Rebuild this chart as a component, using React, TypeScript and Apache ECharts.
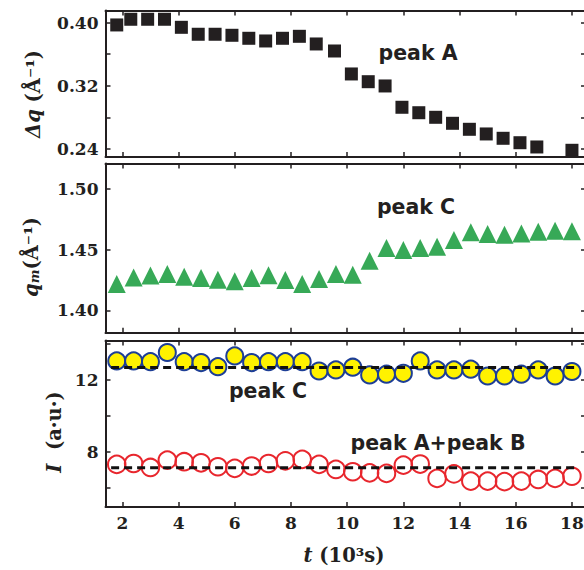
import React, { useEffect, useRef } from 'react';
import * as echarts from 'echarts';

// peak A width (top panel)
const tA = [1.8, 2.3, 2.9, 3.5, 4.1, 4.7, 5.3, 5.9, 6.5, 7.1, 7.7, 8.3, 8.9, 9.55, 10.15, 10.75, 11.35, 11.95, 12.55, 13.15, 13.75, 14.35, 14.95, 15.55, 16.15, 16.75, 18.0];
const dqA = [0.397, 0.4042, 0.4042, 0.4042, 0.394, 0.3852, 0.3852, 0.3839, 0.3801, 0.3767, 0.3801, 0.3826, 0.3729, 0.364, 0.3349, 0.3251, 0.3197, 0.2927, 0.2858, 0.28, 0.2724, 0.2648, 0.2589, 0.2534, 0.2478, 0.2424, 0.2382];

// peak C position (middle) and intensities (bottom)
const tC = [1.8, 2.4, 3.0, 3.6, 4.2, 4.8, 5.4, 6.0, 6.6, 7.2, 7.8, 8.4, 9.0, 9.6, 10.2, 10.8, 11.4, 12.0, 12.6, 13.2, 13.8, 14.4, 15.0, 15.6, 16.2, 16.8, 17.4, 18.0];
const qmC = [1.4217, 1.4271, 1.4286, 1.4299, 1.4277, 1.4267, 1.4252, 1.4239, 1.4267, 1.4288, 1.425, 1.4217, 1.4258, 1.4299, 1.4293, 1.4408, 1.4512, 1.4495, 1.4512, 1.4523, 1.4578, 1.4641, 1.4627, 1.4621, 1.4632, 1.4646, 1.4654, 1.4649];
const intensityC = [13.06, 13.06, 13.02, 13.53, 13.02, 12.97, 12.74, 13.34, 12.97, 13.02, 13.02, 13.02, 12.50, 12.56, 12.71, 12.28, 12.32, 12.37, 13.06, 12.56, 12.56, 12.60, 12.22, 12.22, 12.32, 12.56, 12.22, 12.47];
const intensityAB = [7.29, 7.34, 7.12, 7.53, 7.44, 7.38, 7.16, 7.07, 7.20, 7.34, 7.49, 7.57, 7.29, 7.01, 6.88, 6.82, 6.79, 7.25, 7.31, 6.51, 6.76, 6.36, 6.36, 6.33, 6.36, 6.45, 6.51, 6.63];

// dashed reference levels
const fitT = [1.6, 18.2];
const fitC = 12.7;
const fitAB = 7.1;

// ticks
const xTicks = [2, 4, 6, 8, 10, 12, 14, 16, 18];
const dqTicks = [0.24, 0.28, 0.32, 0.36, 0.40];
const dqLabels = [0.24, 0.32, 0.40];
const qmTicks = [1.40, 1.45, 1.50];
const iTicks = [6, 8, 10, 12, 14];
const iLabels = [8, 12];

const INK = '#231f20';
const SERIF = '"DejaVu Serif"';
const SANS = '"DejaVu Sans"';

export default function App() {
  const ref = useRef<HTMLDivElement>(null);
  useEffect(() => {
    if (!ref.current) return;
    const chart = echarts.init(ref.current, null, { renderer: 'svg' });

    const grids = [
      { top: 10.5, height: 146.5 },
      { top: 163.5, height: 169.2 },
      { top: 340.5, height: 166.5 },
    ].map((g) => ({ left: 105.5, right: 14, top: g.top, height: g.height, containLabel: false, outerBoundsMode: 'none' }));

    const axisLine = { show: true, onZero: false, lineStyle: { color: INK, width: 2 } };
    const tickStyle = { show: true, inside: true, length: 5, lineStyle: { color: INK, width: 1.5 } };
    const labelFont = { fontFamily: SERIF, fontWeight: 'bold', fontSize: 17, color: INK };

    const xAxes: any[] = [];
    const yAxes: any[] = [];
    const yDefs = [
      { min: 0.2297, max: 0.4153, ticks: dqTicks, labels: dqLabels, fmt: (v: number) => v.toFixed(2) },
      { min: 1.3818, max: 1.5205, ticks: qmTicks, labels: qmTicks, fmt: (v: number) => v.toFixed(2) },
      { min: 4.915, max: 14.2, ticks: iTicks, labels: iLabels, fmt: (v: number) => String(Math.round(v)) },
    ];
    for (let g = 0; g < 3; g++) {
      for (const pos of ['bottom', 'top']) {
        xAxes.push({
          type: 'value', gridIndex: g, position: pos, min: 1.4, max: 18.5,
          axisLine, splitLine: { show: false },
          axisTick: { ...tickStyle, customValues: xTicks },
          axisLabel: g === 2 && pos === 'bottom'
            ? { show: true, customValues: xTicks, margin: 7, ...labelFont }
            : { show: false },
        });
      }
      const d = yDefs[g];
      for (const pos of ['left', 'right']) {
        yAxes.push({
          type: 'value', gridIndex: g, position: pos, min: d.min, max: d.max,
          axisLine, splitLine: { show: false },
          axisTick: { ...tickStyle, customValues: d.ticks },
          axisLabel: pos === 'left'
            ? { show: true, customValues: d.labels, margin: 7, formatter: d.fmt, ...labelFont }
            : { show: false },
        });
      }
    }

    const pair = (xs: number[], ys: number[]) => xs.map((x, i) => [x, ys[i]]);

    const titleRich = {
      b: { fontFamily: SERIF, fontWeight: 'bold', fontSize: 19.5, fill: INK },
      i: { fontFamily: SERIF, fontWeight: 'bold', fontStyle: 'italic', fontSize: 19.5, fill: INK },
      sub: { fontFamily: SERIF, fontWeight: 'bold', fontStyle: 'italic', fontSize: 13, fill: INK, verticalAlign: 'bottom' },
    };
    const peakFont = `bold 20.5px ${SANS}`;
    const peakText = (text: string, x: number, y: number) => ({
      type: 'text', x, y, z: 100,
      style: { text, font: peakFont, fill: INK, align: 'center', verticalAlign: 'middle' },
    });
    const title = (text: string, x: number, y: number, rotation: number) => ({
      type: 'text', x, y, rotation, z: 100,
      style: { text, rich: titleRich, fill: INK, align: 'center', verticalAlign: 'middle' },
    });

    chart.setOption({
      animation: false,
      backgroundColor: '#ffffff',
      grid: grids,
      xAxis: xAxes,
      yAxis: yAxes,
      series: [
        {
          type: 'scatter', xAxisIndex: 0, yAxisIndex: 0, data: pair(tA, dqA),
          symbol: 'rect', symbolSize: 13, itemStyle: { color: INK, opacity: 1 },
        },
        {
          type: 'scatter', xAxisIndex: 2, yAxisIndex: 2, data: pair(tC, qmC),
          symbol: 'triangle', symbolSize: 18, itemStyle: { color: '#37a957', opacity: 1 },
        },
        {
          type: 'scatter', xAxisIndex: 4, yAxisIndex: 4, data: pair(tC, intensityC),
          symbol: 'circle', symbolSize: 17,
          itemStyle: { color: '#fff200', borderColor: '#1d3e96', borderWidth: 2, opacity: 1 },
        },
        {
          type: 'scatter', xAxisIndex: 4, yAxisIndex: 4, data: pair(tC, intensityAB),
          symbol: 'circle', symbolSize: 17.5,
          itemStyle: { color: 'rgba(255,255,255,0)', borderColor: '#e8262d', borderWidth: 2, opacity: 1 },
        },
        {
          type: 'line', xAxisIndex: 4, yAxisIndex: 4, z: 5, symbol: 'none',
          data: fitT.map((t) => [t, fitC]),
          lineStyle: { color: '#111111', width: 3, type: [8, 5] },
        },
        {
          type: 'line', xAxisIndex: 4, yAxisIndex: 4, z: 5, symbol: 'none',
          data: fitT.map((t) => [t, fitAB]),
          lineStyle: { color: '#111111', width: 3, type: [8, 5] },
        },
      ],
      graphic: [
        peakText('peak A', 418, 53),
        peakText('peak C', 416, 207),
        peakText('peak C', 268, 391),
        peakText('peak A+peak B', 438, 443),
        title('{i|Δq}{b| (Å⁻¹)}', 33, 94, Math.PI / 2),
        title('{i|q}{sub|m}{b|(Å⁻¹)}', 31, 257, Math.PI / 2),
        title('{i|I}{b|  (a·u·)}', 54, 432, Math.PI / 2),
        title('{i|t}{b| (10³s)}', 344, 555, 0),
      ],
    });
    return () => chart.dispose();
  }, []);
  return <div ref={ref} style={{ position: 'fixed', left: 0, top: 0, width: 600, height: 570 }} />;
}
